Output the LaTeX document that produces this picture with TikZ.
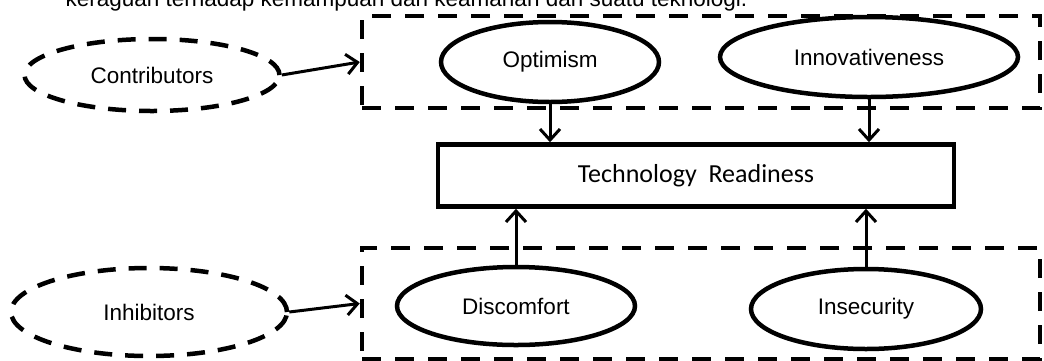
\documentclass[tikz,border=0pt]{standalone}
\usepackage{fontspec}
\setmainfont{Liberation Sans}
\newfontfamily\calib{Carlito}
\usetikzlibrary{arrows.meta,shapes.geometric}
\begin{document}
\begin{tikzpicture}[x=1pt,y=-1pt,
  lbl/.style={font=\fontsize{22.5}{27}\selectfont},
  oval/.style={ellipse, draw, line width=4.5pt, inner sep=0pt, lbl},
  dashoval/.style={oval, dash pattern=on 18pt off 13pt},
  grpbox/.style={rectangle, draw, line width=4.5pt, dash pattern=on 19pt off 14pt, inner sep=0pt},
  mainbox/.style={rectangle, draw, line width=4.5pt, inner sep=0pt, font=\calib\fontsize{26}{31}\selectfont},
  arr/.style={line width=3pt, -{Straight Barb[length=11pt,width=20pt,line width=3pt]}}
]
\useasboundingbox (0,0) rectangle (1044,360);
\clip (0,0) rectangle (1044,360);

\node[lbl, anchor=base west] (cap) at (62,6) {keraguan terhadap kemampuan dan keamanan dari suatu teknologi.};

\node[grpbox, minimum width=678pt, minimum height=92pt] (topbox) at (701,62) {};
\node[grpbox, minimum width=678pt, minimum height=111pt] (botbox) at (701,303.5) {};

\node[dashoval, minimum width=255pt, minimum height=72pt] (cont) at (152,75) {Contributors};
\node[dashoval, minimum width=276pt, minimum height=88pt] (inh) at (149,312) {Inhibitors};

\node[oval, minimum width=218pt, minimum height=80pt] (opt) at (550,62) {Optimism};
\node[oval, minimum width=298pt, minimum height=80pt] (inno) at (869,57) {Innovativeness};
\node[oval, minimum width=238pt, minimum height=78pt] (disc) at (516,306) {Discomfort};
\node[oval, minimum width=230pt, minimum height=80pt] (insec) at (866,309) {Insecurity};

\node[mainbox, minimum width=516pt, minimum height=62pt] (tr) at (696,175.5) {Technology\ \ Readiness};

\draw[arr] (cont.east) -- (topbox.west);
\draw[arr] (inh.east) -- (botbox.west);
\draw[arr] (opt.south) -- (opt.south |- tr.north);
\draw[arr] (inno.south) -- (inno.south |- tr.north);
\draw[arr] (disc.north) -- (disc.north |- tr.south);
\draw[arr] (insec.north) -- (insec.north |- tr.south);
\end{tikzpicture}
\end{document}
